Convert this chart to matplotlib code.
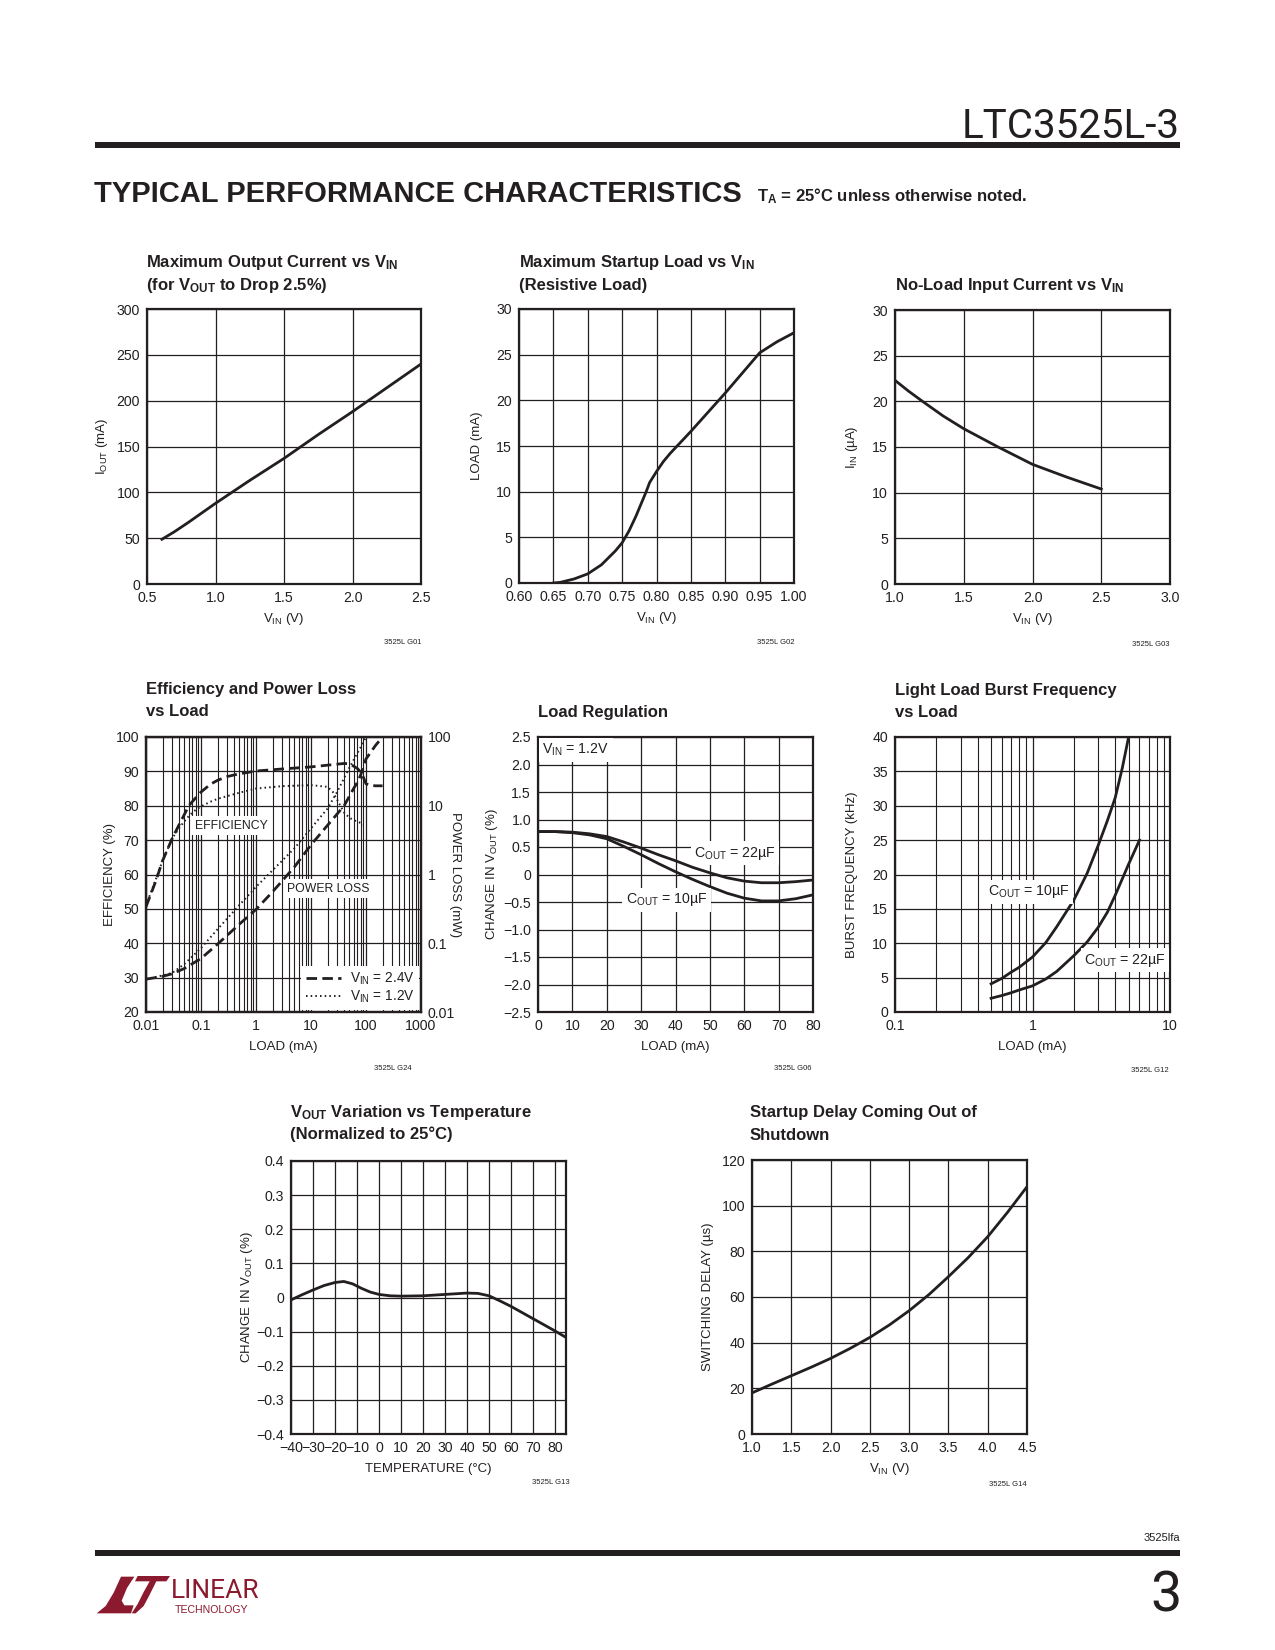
import matplotlib
matplotlib.use('Agg')
import matplotlib.pyplot as plt
from matplotlib.patches import Rectangle, Polygon
from matplotlib.lines import Line2D
from matplotlib.ticker import FixedLocator, FixedFormatter, NullLocator, NullFormatter

# ---------------- data ----------------
# G01 Maximum output current vs VIN
vin_iout = [0.6, 0.7, 0.8, 1.0, 1.25, 1.5, 1.75, 2.0, 2.25, 2.5]
iout_max = [48, 57, 67, 88, 113, 137, 163, 188, 214, 240]

# G02 Maximum startup load vs VIN
vin_startup = [0.65, 0.66, 0.68, 0.70, 0.72, 0.74, 0.75, 0.76, 0.77, 0.78, 0.785, 0.79, 0.80, 0.81, 0.82,
               0.83, 0.84, 0.85, 0.875, 0.90, 0.925, 0.95, 0.975, 1.00]
load_startup = [0.0, 0.07, 0.44, 1.0, 2.0, 3.5, 4.4, 5.7, 7.3, 9.1, 10.0, 11.0, 12.2, 13.3, 14.2,
                15.0, 15.8, 16.6, 18.7, 20.8, 23.0, 25.2, 26.4, 27.4]

# G03 No-load input current vs VIN
vin_noload = [1.0, 1.1, 1.2, 1.35, 1.5, 1.75, 2.0, 2.25, 2.5]
iin_noload = [22.3, 21.1, 20.0, 18.4, 17.0, 15.0, 13.1, 11.7, 10.4]

# G24 Efficiency and power loss vs load
eff_24_load = [0.01, 0.015, 0.02, 0.03, 0.04, 0.05, 0.06, 0.08, 0.1, 0.15, 0.2, 0.3, 0.5, 1, 3, 10, 30, 40, 50, 60, 70, 80, 90, 100, 120, 150, 200]
eff_24 = [50.6, 58, 64, 70.5, 74.5, 77.5, 80, 82.3, 84, 86.3, 87.4, 88.5, 89.3, 90.1, 90.7, 91.3, 92.1, 92.3, 92.2, 91.5, 90.8, 89.8, 88.2, 86.4, 85.9, 85.8, 85.8]
eff_12_load = [0.01, 0.015, 0.02, 0.03, 0.04, 0.05, 0.06, 0.08, 0.1, 0.15, 0.2, 0.3, 0.5, 1, 3, 10, 20, 25, 30, 40, 50, 60, 80, 90]
eff_12 = [51, 58.5, 64, 70.5, 73.5, 75.5, 77, 78.8, 79.8, 81.2, 82, 82.8, 83.8, 85, 85.7, 86, 85.5, 84, 81.7, 78, 76.5, 75.8, 75, 74.5]
pl_24_load = [0.01, 0.02, 0.03, 0.05, 0.1, 0.2, 0.5, 1, 2, 5, 10, 20, 40, 60, 70, 80, 90, 100, 150, 200]
pl_24 = [0.03, 0.033, 0.036, 0.043, 0.06, 0.097, 0.19, 0.31, 0.56, 1.29, 2.7, 5.2, 10, 18, 22, 28, 37, 48, 76, 100]
pl_12_load = [0.01, 0.02, 0.03, 0.05, 0.1, 0.2, 0.5, 1, 2, 5, 10, 20, 30, 50, 80, 100]
pl_12 = [0.03, 0.034, 0.037, 0.05, 0.085, 0.16, 0.36, 0.66, 1.15, 2.4, 4.7, 9.1, 16, 36, 71, 100]

# G06 Load regulation
load_reg = [0, 5, 10, 15, 20, 25, 30, 35, 40, 45, 50, 55, 60, 65, 70, 75, 80]
dv_22 = [0.78, 0.78, 0.77, 0.74, 0.69, 0.59, 0.48, 0.36, 0.25, 0.13, 0.03, -0.06, -0.12, -0.15, -0.15, -0.13, -0.10]
dv_10 = [0.78, 0.78, 0.76, 0.72, 0.65, 0.51, 0.36, 0.20, 0.05, -0.09, -0.22, -0.34, -0.43, -0.48, -0.48, -0.44, -0.37]

# G12 Burst frequency vs load
burst_load_10 = [0.5, 0.6, 0.7, 0.8, 1.0, 1.25, 1.5, 2.0, 2.5, 3.0, 3.5, 4.0, 4.5, 5.0]
burst_10 = [4.1, 4.9, 5.8, 6.5, 8.0, 10.1, 12.4, 16.3, 20.2, 24.2, 27.8, 31.2, 35.5, 40.0]
burst_load_22 = [0.5, 0.6, 0.7, 0.8, 1.0, 1.25, 1.5, 2.0, 2.5, 3.0, 3.5, 4.0, 5.0, 6.0]
burst_22 = [2.0, 2.4, 2.8, 3.2, 3.8, 4.8, 5.9, 8.2, 10.2, 12.3, 14.5, 17.0, 21.5, 25.0]

# G13 VOUT variation vs temperature
temp = [-40, -35, -30, -25, -20, -16, -12, -8, -4, 0, 5, 10, 20, 30, 40, 45, 50, 55, 60, 70, 80, 85]
dvout_temp = [-0.007, 0.008, 0.022, 0.035, 0.044, 0.047, 0.040, 0.027, 0.016, 0.009, 0.005, 0.004, 0.005, 0.009, 0.013, 0.012, 0.005, -0.01, -0.026, -0.062, -0.098, -0.117]

# G14 Startup delay vs VIN
vin_delay = [1.0, 1.25, 1.5, 1.75, 2.0, 2.25, 2.5, 2.75, 3.0, 3.25, 3.5, 3.75, 4.0, 4.25, 4.5]
delay = [18, 21.8, 25.5, 29.2, 33.1, 37.5, 42.3, 47.8, 54.0, 61.0, 68.9, 77.2, 86.4, 97, 108.3]

# tick labels
g01_xt = [0.5, 1.0, 1.5, 2.0, 2.5]; g01_xl = ['0.5', '1.0', '1.5', '2.0', '2.5']
g01_yt = [0, 50, 100, 150, 200, 250, 300]; g01_yl = ['0', '50', '100', '150', '200', '250', '300']
g02_xt = [0.60, 0.65, 0.70, 0.75, 0.80, 0.85, 0.90, 0.95, 1.00]
g02_xl = ['0.60', '0.65', '0.70', '0.75', '0.80', '0.85', '0.90', '0.95', '1.00']
g02_yt = [0, 5, 10, 15, 20, 25, 30]; g02_yl = ['0', '5', '10', '15', '20', '25', '30']
g03_xt = [1.0, 1.5, 2.0, 2.5, 3.0]; g03_xl = ['1.0', '1.5', '2.0', '2.5', '3.0']
g03_yt = [0, 5, 10, 15, 20, 25, 30]; g03_yl = ['0', '5', '10', '15', '20', '25', '30']
g24_xt = [0.01, 0.1, 1, 10, 100, 1000]; g24_xl = ['0.01', '0.1', '1', '10', '100', '1000']
g24_yt = [20, 30, 40, 50, 60, 70, 80, 90, 100]; g24_yl = ['20', '30', '40', '50', '60', '70', '80', '90', '100']
g24_rt = [0.01, 0.1, 1, 10, 100]; g24_rl = ['0.01', '0.1', '1', '10', '100']
g06_xt = [0, 10, 20, 30, 40, 50, 60, 70, 80]; g06_xl = ['0', '10', '20', '30', '40', '50', '60', '70', '80']
g06_yt = [-2.5, -2.0, -1.5, -1.0, -0.5, 0, 0.5, 1.0, 1.5, 2.0, 2.5]
g06_yl = ['\u22122.5', '\u22122.0', '\u22121.5', '\u22121.0', '\u22120.5', '0', '0.5', '1.0', '1.5', '2.0', '2.5']
g12_xt = [0.1, 1, 10]; g12_xl = ['0.1', '1', '10']
g12_yt = [0, 5, 10, 15, 20, 25, 30, 35, 40]; g12_yl = ['0', '5', '10', '15', '20', '25', '30', '35', '40']
g13_xt = [-40, -30, -20, -10, 0, 10, 20, 30, 40, 50, 60, 70, 80]
g13_xl = ['\u221240', '\u221230', '\u221220', '\u221210', '0', '10', '20', '30', '40', '50', '60', '70', '80']
g13_yt = [-0.4, -0.3, -0.2, -0.1, 0, 0.1, 0.2, 0.3, 0.4]
g13_yl = ['\u22120.4', '\u22120.3', '\u22120.2', '\u22120.1', '0', '0.1', '0.2', '0.3', '0.4']
g14_xt = [1.0, 1.5, 2.0, 2.5, 3.0, 3.5, 4.0, 4.5]; g14_xl = ['1.0', '1.5', '2.0', '2.5', '3.0', '3.5', '4.0', '4.5']
g14_yt = [0, 20, 40, 60, 80, 100, 120]; g14_yl = ['0', '20', '40', '60', '80', '100', '120']

# ---------------- style ----------------
plt.rcParams['font.family'] = ['Liberation Sans', 'DejaVu Sans']
plt.rcParams['mathtext.default'] = 'regular'
plt.rcParams['axes.unicode_minus'] = True
LIGHT = ['Roboto', 'Liberation Sans', 'DejaVu Sans']

W, H = 1275, 1650
fig = plt.figure(figsize=(W / 100, H / 100), dpi=100)
fig.patch.set_facecolor('white')

TICK_FS = 10.2
LABEL_FS = 9.5
TITLE_FS = 12.0
LW = 2.0
INK = '#231f20'


def pxf(x, y):
    return x / W, 1 - y / H


def ftext(x, y, s, **kw):
    X, Y = pxf(x, y)
    kw.setdefault('color', INK)
    return fig.text(X, Y, s, **kw)


def make_ax(l, t, r, b, xlim, ylim, xt, xl, yt, yl, xlog=False, ylog=False,
            xlabel='', ylabel='', ylab_off=-44):
    ax = fig.add_axes([l / W, 1 - b / H, (r - l) / W, (b - t) / H])
    if xlog:
        ax.set_xscale('log')
    if ylog:
        ax.set_yscale('log')
    ax.set_xlim(*xlim)
    ax.set_ylim(*ylim)
    ax.xaxis.set_major_locator(FixedLocator(xt))
    ax.xaxis.set_major_formatter(FixedFormatter(xl))
    ax.yaxis.set_major_locator(FixedLocator(yt))
    ax.yaxis.set_major_formatter(FixedFormatter(yl))
    if not xlog:
        ax.xaxis.set_minor_locator(NullLocator())
    else:
        ax.xaxis.set_minor_formatter(NullFormatter())
    if not ylog:
        ax.yaxis.set_minor_locator(NullLocator())
    ax.tick_params(which='both', length=0, labelsize=TICK_FS, pad=5, colors=INK)
    for sp in ax.spines.values():
        sp.set_linewidth(1.6)
        sp.set_color(INK)
    ax.grid(True, which='major', color=INK, lw=0.9)
    if xlog:
        ax.grid(True, which='minor', axis='x', color=INK, lw=0.8)
    ax.set_axisbelow(True)
    wpx = r - l
    hpx = b - t
    ax.set_xlabel(xlabel, fontsize=LABEL_FS, color=INK)
    ax.xaxis.set_label_coords(0.5, -35 / hpx)
    ax.xaxis.label.set_verticalalignment('center')
    ax.set_ylabel(ylabel, fontsize=LABEL_FS, color=INK)
    ax.yaxis.set_label_coords(ylab_off / wpx, 0.5)
    ax.yaxis.label.set_verticalalignment('center')
    return ax


def title(x, y1, lines, dy=23):
    for i, s in enumerate(lines):
        ftext(x, y1 + i * dy, s, fontsize=TITLE_FS, fontweight='bold', ha='left', va='baseline')


def code(x, y, s):
    ftext(x, y, s, fontsize=5.5, ha='right', va='center')


def boxed(ax, x, y, s, ha='center', fs=None):
    ax.text(x, y, s, ha=ha, va='center', fontsize=fs or 10.2, color=INK, zorder=3,
            bbox=dict(facecolor='white', edgecolor='none', pad=2.5))


# ---------------- header / footer ----------------
ftext(1180, 138, 'LTC3525L-3', fontsize=29, ha='right', va='baseline', fontweight='normal',
      family=LIGHT)
fig.add_artist(Rectangle(pxf(95, 148), (1180 - 95) / W, 6 / H, transform=fig.transFigure,
                         facecolor=INK, edgecolor='none'))
ftext(94, 202, 'TYPICAL PERFORMANCE CHARACTERISTICS', fontsize=21, fontweight='heavy',
      ha='left', va='baseline')
ftext(757, 201, 'T$_{A}$ = 25°C unless otherwise noted.', fontsize=12, fontweight='bold',
      ha='left', va='baseline')

ftext(1180, 1541, '3525lfa', fontsize=8, ha='right', va='baseline')
fig.add_artist(Rectangle(pxf(95, 1556), (1180 - 95) / W, 6 / H, transform=fig.transFigure,
                         facecolor=INK, edgecolor='none'))
ftext(1182, 1612, '3', fontsize=40, ha='right', va='baseline', fontweight='normal', family=LIGHT)

LOGO = '#8b1a2e'
# logo mark (crop-relative 3x coordinates mapped to page pixels)
mark_a = [(35, 160), (62, 138), (86, 98), (108, 50), (148, 50), (126, 84), (110, 122),
          (118, 136), (146, 136), (138, 160)]
mark_b = [(158, 48), (255, 48), (244, 64), (214, 64), (192, 108), (176, 138), (152, 160),
          (140, 160), (158, 132), (176, 96), (194, 64), (150, 64)]
for m in (mark_a, mark_b):
    pts = [pxf(85 + x / 3, 1560 + y / 3) for x, y in m]
    fig.add_artist(Polygon(pts, closed=True, transform=fig.transFigure, facecolor=LOGO,
                           edgecolor='none'))
ftext(171, 1598, 'LINEAR', fontsize=19, ha='left', va='baseline', color=LOGO, family=LIGHT,
      fontweight='normal')
ftext(175, 1613, 'TECHNOLOGY', fontsize=7.6, ha='left', va='baseline', color=LOGO)

# ---------------- G01 ----------------
title(146, 267, ['Maximum Output Current vs V$_{IN}$', '(for V$_{OUT}$ to Drop 2.5%)'])
a1 = make_ax(147, 309, 421, 584, (0.5, 2.5), (0, 300), g01_xt, g01_xl, g01_yt, g01_yl,
             xlabel='V$_{IN}$ (V)', ylabel='I$_{OUT}$ (mA)', ylab_off=-45)
a1.plot(vin_iout, iout_max, color=INK, lw=LW, solid_capstyle='butt')
code(421, 642, '3525L G01')

# ---------------- G02 ----------------
title(519, 267, ['Maximum Startup Load vs V$_{IN}$', '(Resistive Load)'])
a2 = make_ax(519, 309, 794, 583, (0.60, 1.00), (0, 30), g02_xt, g02_xl, g02_yt, g02_yl,
             xlabel='V$_{IN}$ (V)', ylabel='LOAD (mA)', ylab_off=-42)
a2.plot(vin_startup, load_startup, color=INK, lw=LW)
code(794, 642, '3525L G02')

# ---------------- G03 ----------------
title(895, 290, ['No-Load Input Current vs V$_{IN}$'])
a3 = make_ax(895, 310, 1170, 584, (1.0, 3.0), (0, 30), g03_xt, g03_xl, g03_yt, g03_yl,
             xlabel='V$_{IN}$ (V)', ylabel='I$_{IN}$ (µA)', ylab_off=-43)
a3.plot(vin_noload, iin_noload, color=INK, lw=LW)
code(1169, 644, '3525L G03')

# ---------------- G24 ----------------
title(146, 694, ['Efficiency and Power Loss', 'vs Load'], dy=22)
a4 = make_ax(146, 737, 421, 1012, (0.01, 1000), (20, 100), g24_xt, g24_xl, g24_yt, g24_yl,
             xlog=True, xlabel='LOAD (mA)', ylabel='EFFICIENCY (%)', ylab_off=-36)
DASH = (0, (3.8, 1.9))
DOT = (0, (0.8, 1.6))
a4.plot(eff_24_load, eff_24, color=INK, lw=LW, ls=DASH)
a4.plot(eff_12_load, eff_12, color=INK, lw=1.4, ls=DOT)
boxed(a4, 0.35, 74.2, 'EFFICIENCY', fs=8.8)
boxed(a4, 21, 55.9, 'POWER LOSS', fs=8.8)
a4r = a4.twinx()
a4r.set_yscale('log')
a4r.set_ylim(0.01, 100)
a4r.yaxis.set_major_locator(FixedLocator(g24_rt))
a4r.yaxis.set_major_formatter(FixedFormatter(g24_rl))
a4r.yaxis.set_minor_locator(NullLocator())
a4r.tick_params(which='both', length=0, labelsize=TICK_FS, pad=5, colors=INK)
for sp in a4r.spines.values():
    sp.set_linewidth(1.6)
    sp.set_color(INK)
a4r.set_ylabel('POWER LOSS (mW)', fontsize=LABEL_FS, color=INK, rotation=-90)
a4r.yaxis.set_label_coords(1 + 34 / 275, 0.5)
a4r.yaxis.label.set_verticalalignment('center')
a4r.plot(pl_24_load, pl_24, color=INK, lw=LW, ls=DASH)
a4r.plot(pl_12_load, pl_12, color=INK, lw=1.4, ls=DOT)
h1 = Line2D([], [], color=INK, lw=LW, ls=DASH)
h2 = Line2D([], [], color=INK, lw=1.4, ls=DOT)
leg = a4r.legend([h1, h2], ['V$_{IN}$ = 2.4V', 'V$_{IN}$ = 1.2V'], loc='lower right',
                 frameon=True, fancybox=False, framealpha=1, facecolor='white',
                 edgecolor='none', borderaxespad=0.15, fontsize=9.8, handlelength=2.6,
                 handletextpad=0.6, labelspacing=0.1, borderpad=0.35)
for t in leg.get_texts():
    t.set_color(INK)
code(412, 1068, '3525L G24')

# ---------------- G06 ----------------
title(538, 717, ['Load Regulation'])
a5 = make_ax(538, 737, 813, 1012, (0, 80), (-2.5, 2.5), g06_xt, g06_xl, g06_yt, g06_yl,
             xlabel='LOAD (mA)', ylabel='CHANGE IN V$_{OUT}$ (%)', ylab_off=-46)
a5.plot(load_reg, dv_22, color=INK, lw=LW)
a5.plot(load_reg, dv_10, color=INK, lw=LW)
boxed(a5, 1.3, 2.26, 'V$_{IN}$ = 1.2V', ha='left')
boxed(a5, 57.3, 0.39, 'C$_{OUT}$ = 22µF')
boxed(a5, 37.4, -0.46, 'C$_{OUT}$ = 10µF')
code(812, 1068, '3525L G06')

# ---------------- G12 ----------------
title(895, 695, ['Light Load Burst Frequency', 'vs Load'], dy=22)
a6 = make_ax(895, 737, 1170, 1012, (0.1, 10), (0, 40), g12_xt, g12_xl, g12_yt, g12_yl,
             xlog=True, xlabel='LOAD (mA)', ylabel='BURST FREQUENCY (kHz)', ylab_off=-43)
a6.plot(burst_load_10, burst_10, color=INK, lw=LW)
a6.plot(burst_load_22, burst_22, color=INK, lw=LW)
boxed(a6, 0.94, 17.5, 'C$_{OUT}$ = 10µF')
boxed(a6, 4.7, 7.5, 'C$_{OUT}$ = 22µF')
code(1169, 1071, '3525L G12')

# ---------------- G13 ----------------
title(290, 1117, ['V$_{OUT}$ Variation vs Temperature', '(Normalized to 25°C)'], dy=22.5)
a7 = make_ax(291, 1161, 566, 1434, (-40, 85), (-0.4, 0.4), g13_xt, g13_xl, g13_yt, g13_yl,
             xlabel='TEMPERATURE (°C)', ylabel='CHANGE IN V$_{OUT}$ (%)', ylab_off=-44)
a7.plot(temp, dvout_temp, color=INK, lw=LW)
code(570, 1483, '3525L G13')

# ---------------- G14 ----------------
title(750, 1117, ['Startup Delay Coming Out of', 'Shutdown'], dy=22.5)
a8 = make_ax(752, 1160, 1027, 1434, (1.0, 4.5), (0, 120), g14_xt, g14_xl, g14_yt, g14_yl,
             xlabel='V$_{IN}$ (V)', ylabel='SWITCHING DELAY (µs)', ylab_off=-44)
a8.plot(vin_delay, delay, color=INK, lw=LW)
code(1027, 1485, '3525L G14')

fig.savefig('out.png', dpi=100, facecolor='white')
